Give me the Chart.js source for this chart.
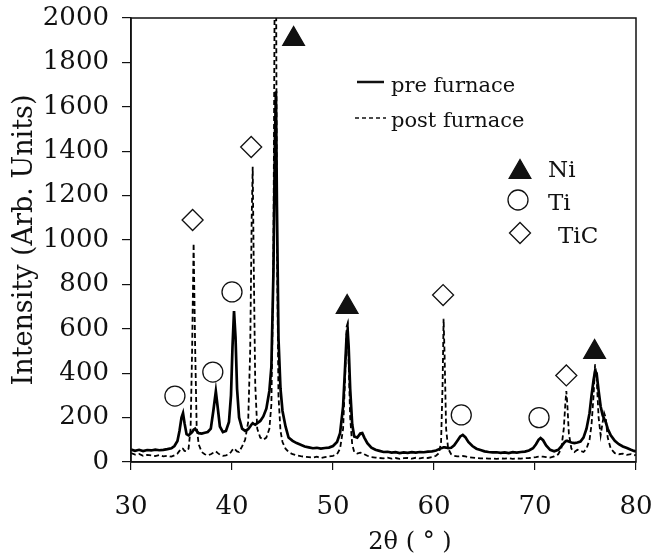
<!DOCTYPE html>
<html>
<head>
<meta charset="utf-8">
<script src="https://cdn.jsdelivr.net/npm/chart.js@4.4.1/dist/chart.umd.min.js"></script>
<style>
  html, body { margin: 0; padding: 0; background: #ffffff; }
  #wrap { width: 662px; height: 559px; position: relative; }
</style>
</head>
<body>
<div id="wrap"><canvas id="c"></canvas></div>
<script>
// ---- data ----
const twoTheta = [
  30.0, 30.4, 30.8, 31.2, 31.6, 32.0, 32.4, 32.8, 33.2, 33.6,
  34.0, 34.3, 34.6, 34.8, 35.0, 35.15, 35.3, 35.5, 35.7, 35.9,
  36.05, 36.2, 36.35, 36.5, 36.7, 37.0, 37.3, 37.6, 37.9, 38.15,
  38.4, 38.6, 38.8, 39.1, 39.4, 39.7, 39.9, 40.05, 40.2, 40.35,
  40.5, 40.7, 41.0, 41.3, 41.6, 41.8, 41.95, 42.05, 42.15, 42.3,
  42.5, 42.8, 43.1, 43.4, 43.7, 43.9, 44.1, 44.25, 44.35, 44.45,
  44.6, 44.8, 45.0, 45.3, 45.6, 46.0, 46.4, 46.8, 47.2, 47.6,
  48.0, 48.4, 48.8, 49.2, 49.6, 50.0, 50.4, 50.7, 51.0, 51.2,
  51.35, 51.45, 51.55, 51.7, 51.9, 52.1, 52.4, 52.7, 52.9, 53.1,
  53.4, 53.8, 54.2, 54.6, 55.0, 55.4, 55.8, 56.2, 56.6, 57.0,
  57.4, 57.8, 58.2, 58.6, 59.0, 59.4, 59.8, 60.2, 60.5, 60.7,
  60.85, 60.95, 61.05, 61.2, 61.4, 61.7, 62.0, 62.3, 62.6, 62.85,
  63.1, 63.4, 63.8, 64.2, 64.6, 65.0, 65.4, 65.8, 66.2, 66.6,
  67.0, 67.4, 67.8, 68.2, 68.6, 69.0, 69.4, 69.8, 70.1, 70.35,
  70.55, 70.8, 71.1, 71.5, 71.9, 72.3, 72.6, 72.85, 73.0, 73.1,
  73.2, 73.35, 73.6, 73.9, 74.2, 74.5, 74.8, 75.1, 75.4, 75.6,
  75.8, 75.95, 76.1, 76.3, 76.5, 76.7, 76.85, 77.0, 77.2, 77.5,
  77.9, 78.3, 78.7, 79.1, 79.5, 79.8, 80.0
];
const preFurnace = [
  56, 50, 55, 49, 54, 52, 56, 53, 55, 58,
  62, 72, 95, 140, 200, 220, 175, 125, 120, 128,
  135, 145, 150, 140, 130, 128, 132, 135, 150, 230,
  318, 240, 160, 135, 140, 180, 300, 520, 680, 560,
  330, 200, 150, 140, 148, 160, 170, 175, 172, 168,
  175, 185, 205, 240, 320, 430, 850, 1450, 1670, 1150,
  560, 330, 230, 160, 110, 95, 85, 78, 70, 66,
  62, 64, 60, 63, 65, 72, 90, 130, 250, 430,
  570, 595, 520, 330, 170, 115, 110, 128, 130, 110,
  85, 65, 55, 50, 45, 46, 42, 44, 40, 43,
  41, 44, 42, 45, 44, 47, 48, 52, 58, 62,
  64, 66, 66, 65, 62, 64, 75, 95, 115, 122,
  112, 90, 72, 60, 54, 48, 45, 43, 44, 41,
  43, 40, 44, 42, 45, 47, 52, 62, 80, 100,
  108, 98, 75, 55, 48, 55, 70, 85, 92, 95,
  95, 92, 88, 85, 88, 92, 110, 150, 220, 300,
  370, 410, 400, 320, 250, 210, 195, 180, 150, 120,
  95, 80, 70, 63, 55, 50, 48
];
const postFurnace = [
  40, 33, 36, 28, 32, 30, 27, 31, 25, 28,
  24, 30, 38, 50, 62, 60, 50, 48, 60, 150,
  500, 985, 520, 160, 80, 45, 35, 30, 35, 42,
  48, 40, 33, 28, 30, 35, 45, 55, 62, 55,
  48, 45, 70, 100, 180, 500, 1100, 1330, 900, 350,
  150, 110, 100, 110, 150, 260, 900, 2400, 2400, 1000,
  300, 140, 90, 60, 45, 35, 30, 26, 24, 22,
  20, 24, 18, 22, 25, 28, 35, 60, 150, 380,
  610, 625, 450, 200, 80, 45, 38, 42, 40, 35,
  28, 22, 20, 18, 16, 20, 15, 18, 14, 17,
  18, 15, 19, 16, 20, 18, 22, 28, 40, 90,
  350, 645, 480, 150, 60, 35, 28, 25, 26, 27,
  25, 22, 20, 18, 16, 17, 15, 16, 14, 16,
  15, 17, 14, 16, 15, 17, 18, 20, 22, 24,
  25, 24, 22, 20, 25, 35, 60, 150, 260, 320,
  260, 130, 60, 45, 55, 50, 45, 60, 100, 170,
  300, 440, 380, 200, 120, 180, 220, 200, 110, 60,
  40, 35, 38, 32, 35, 30, 32
];
// phase markers (angle, intensity level where the symbol sits)
const niAngles = [46.1, 51.4, 75.9];
const niLevels = [1905, 698, 495];
const tiAngles = [34.35, 38.1, 40.0, 62.7, 70.4];
const tiLevels = [297, 405, 766, 212, 200];
const ticAngles = [36.1, 41.9, 60.9, 73.1];
const ticLevels = [1090, 1419, 752, 390];
// axis ticks / labels
const xTicks = [30, 40, 50, 60, 70, 80];
const yTicks = [0, 200, 400, 600, 800, 1000, 1200, 1400, 1600, 1800, 2000];
const seriesNames = ['pre furnace', 'post furnace'];
const phaseNames = ['Ni', 'Ti', 'TiC'];
const xTitle = '2θ ( ° )';
const yTitle = 'Intensity (Arb. Units)';

// ---- build ----
const pts = (xs, ys) => xs.map((x, i) => ({ x: x, y: ys[i] }));
const FONT = 'DejaVu Serif';
const INK = '#111111';

function drawMarker(ctx, style, x, y, r, filled) {
  ctx.save();
  ctx.beginPath();
  if (style === 'triangle') {
    ctx.moveTo(x, y - r);
    ctx.lineTo(x + 0.866 * r, y + 0.5 * r);
    ctx.lineTo(x - 0.866 * r, y + 0.5 * r);
    ctx.closePath();
  } else if (style === 'circle') {
    ctx.arc(x, y, r, 0, Math.PI * 2);
  } else {
    ctx.moveTo(x - r, y); ctx.lineTo(x, y - r); ctx.lineTo(x + r, y); ctx.lineTo(x, y + r);
    ctx.closePath();
  }
  ctx.lineWidth = 1.3;
  ctx.strokeStyle = INK;
  if (filled) { ctx.fillStyle = INK; ctx.fill(); }
  ctx.stroke();
  ctx.restore();
}

const decor = {
  id: 'decor',
  afterDraw(chart) {
    const { ctx, chartArea: a } = chart;
    ctx.save();
    // frame
    ctx.strokeStyle = INK;
    ctx.lineWidth = 1.5;
    ctx.strokeRect(a.left, a.top, a.right - a.left, a.bottom - a.top);
    // line legend
    ctx.lineWidth = 2.5;
    ctx.beginPath(); ctx.moveTo(357, 82); ctx.lineTo(384, 82); ctx.stroke();
    ctx.lineWidth = 1.6;
    ctx.setLineDash([4, 3]);
    ctx.beginPath(); ctx.moveTo(355, 118); ctx.lineTo(386, 118); ctx.stroke();
    ctx.setLineDash([]);
    ctx.fillStyle = INK;
    ctx.textBaseline = 'alphabetic';
    ctx.textAlign = 'left';
    ctx.font = '21px "' + FONT + '"';
    ctx.fillText(seriesNames[0], 391, 92);
    ctx.fillText(seriesNames[1], 391, 127);
    // phase legend
    drawMarker(ctx, 'triangle', 520, 172, 12.5, true);
    drawMarker(ctx, 'circle', 518, 200, 10, false);
    drawMarker(ctx, 'diamond', 520, 233, 10.5, false);
    ctx.font = '23px "' + FONT + '"';
    ctx.fillText(phaseNames[0], 548, 177);
    ctx.fillText(phaseNames[1], 548, 210);
    ctx.fillText(phaseNames[2], 558, 243);
    // x title
    ctx.textAlign = 'center';
    ctx.textBaseline = 'middle';
    ctx.font = '24px "' + FONT + '"';
    ctx.fillText(xTitle, 410, 543);
    ctx.restore();
  }
};

new Chart(document.getElementById('c'), {
  type: 'line',
  data: {
    datasets: [
      { type: 'scatter', label: phaseNames[0], data: pts(niAngles, niLevels), showLine: false,
        pointStyle: 'triangle', pointRadius: 12.5, pointBackgroundColor: INK, pointBorderColor: INK, pointBorderWidth: 1.3 },
      { type: 'scatter', label: phaseNames[1], data: pts(tiAngles, tiLevels), showLine: false,
        pointStyle: 'circle', pointRadius: 10, pointBackgroundColor: 'rgba(255,255,255,0)', pointBorderColor: INK, pointBorderWidth: 1.3 },
      { type: 'scatter', label: phaseNames[2], data: pts(ticAngles, ticLevels), showLine: false,
        pointStyle: 'rectRot', pointRadius: 10.5, pointBackgroundColor: 'rgba(255,255,255,0)', pointBorderColor: INK, pointBorderWidth: 1.3 },
      { label: seriesNames[0], data: pts(twoTheta, preFurnace), borderColor: '#000', borderWidth: 2.7,
        pointRadius: 0, tension: 0, fill: false },
      { label: seriesNames[1], data: pts(twoTheta, postFurnace), borderColor: '#000', borderWidth: 1.8,
        borderDash: [5, 3], pointRadius: 0, tension: 0, fill: false }
    ]
  },
  options: {
    responsive: true,
    maintainAspectRatio: false,
    animation: false,
    events: [],
    layout: { padding: { top: 18, right: 26, left: 0, bottom: 0 } },
    plugins: { legend: { display: false }, tooltip: { enabled: false } },
    scales: {
      x: {
        type: 'linear', min: 30, max: 80,
        afterBuildTicks: s => { s.ticks = xTicks.map(v => ({ value: v })); },
        afterFit: s => { s.height = 97; s.paddingLeft = 0; s.paddingRight = 0; },
        ticks: { color: INK, font: { family: FONT, size: 26 }, padding: 22, maxRotation: 0,
                 callback: v => String(v) },
        grid: { drawOnChartArea: false, drawTicks: true, tickLength: 8, color: INK, lineWidth: 1.2 },
        border: { display: true, color: INK, width: 1.5 },
        title: { display: false }
      },
      y: {
        type: 'linear', min: 0, max: 2000,
        afterBuildTicks: s => { s.ticks = yTicks.map(v => ({ value: v })); },
        afterFit: s => { s.width = 131; s.paddingTop = 0; s.paddingBottom = 0; },
        ticks: { color: INK, font: { family: FONT, size: 26 }, padding: 13,
                 callback: v => String(v) },
        grid: { drawOnChartArea: false, drawTicks: true, tickLength: 9, color: INK, lineWidth: 1.2 },
        border: { display: true, color: INK, width: 1.5 },
        title: { display: true, text: yTitle, color: INK, font: { family: FONT, size: 27, lineHeight: 1.2 },
                 padding: { top: 9, bottom: 0 } }
      }
    }
  },
  plugins: [decor]
});
</script>
</body>
</html>
